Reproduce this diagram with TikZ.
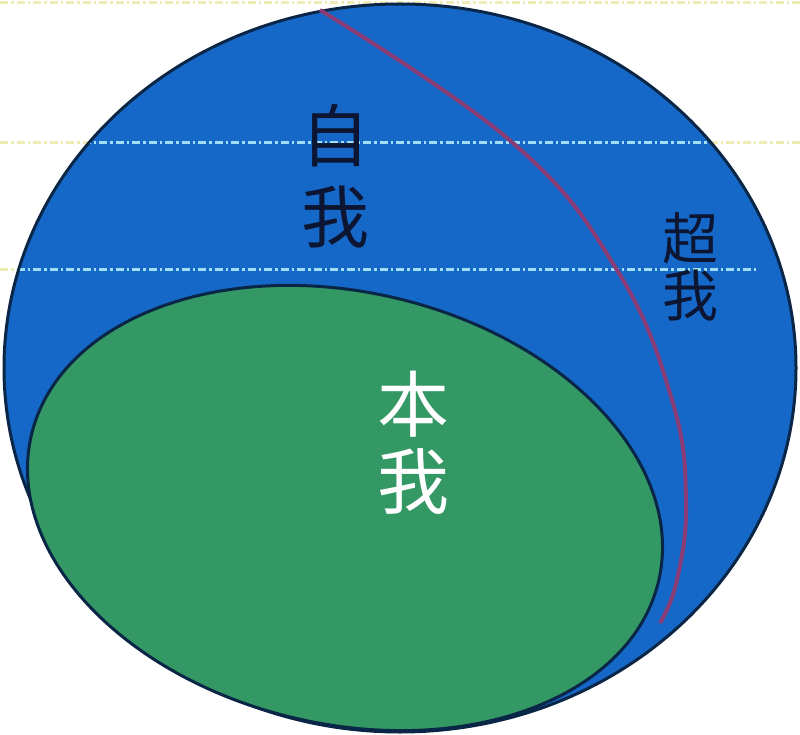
\documentclass[tikz,border=0pt]{standalone}
\usepackage{fontspec}
\newfontfamily\cjk{Noto Sans CJK SC}
\definecolor{egoblue}{RGB}{22,104,200}
\definecolor{idgreen}{RGB}{52,152,100}
\definecolor{rimnavy}{RGB}{10,38,70}
\definecolor{superpurple}{RGB}{138,60,118}
\definecolor{levelin}{RGB}{160,222,245}
\definecolor{levelout}{RGB}{238,236,180}
\definecolor{inknavy}{RGB}{12,22,50}
\tikzset{
  level/.style={line width=3pt,dash pattern=on 8pt off 3pt on 2.5pt off 3pt},
  label/.style={font=\cjk,align=center,inner sep=0pt}
}
\begin{document}
\begin{tikzpicture}[x=1pt,y=-1pt]
  \useasboundingbox (0,0) rectangle (800,735);
  \fill[white] (0,0) rectangle (800,735);
  % levels outside the psyche
  \draw[level,levelout] (0,3) -- (800,3);
  \draw[level,levelout] (0,143) -- (800,143);
  \draw[level,levelout] (0,270) -- (60,270);
  % the whole psyche
  \draw[line width=3pt,draw=rimnavy,fill=egoblue] (400,368) ellipse [x radius=396, y radius=364];
  \begin{scope}
    \clip (400,368) ellipse [x radius=394.5, y radius=362.5];
    \draw[level,levelin] (0,143) -- (800,143);
    \draw[level,levelin] (0,270) -- (757,270);
  \end{scope}
  % id
  \draw[line width=3pt,draw=rimnavy,fill=idgreen,rotate around={-13:(345,508)}]
    (345,508) ellipse [x radius=322, y radius=216];
  % superego border
  \draw[line width=4pt,superpurple] plot[smooth,tension=0.7] coordinates
    {(320,10) (513,143) (617,270) (672,400) (686,500) (677,580) (660,623)};
  \node[label,text=inknavy,font=\cjk\fontsize{68}{81}\selectfont] (ego) at (335,176) {自\\我};
  \node[label,text=inknavy,font=\cjk\fontsize{56}{57}\selectfont] (superego) at (690,267) {超\\我};
  \node[label,text=white,font=\cjk\fontsize{72}{77}\selectfont] (id) at (413,443) {本\\我};
\end{tikzpicture}
\end{document}
